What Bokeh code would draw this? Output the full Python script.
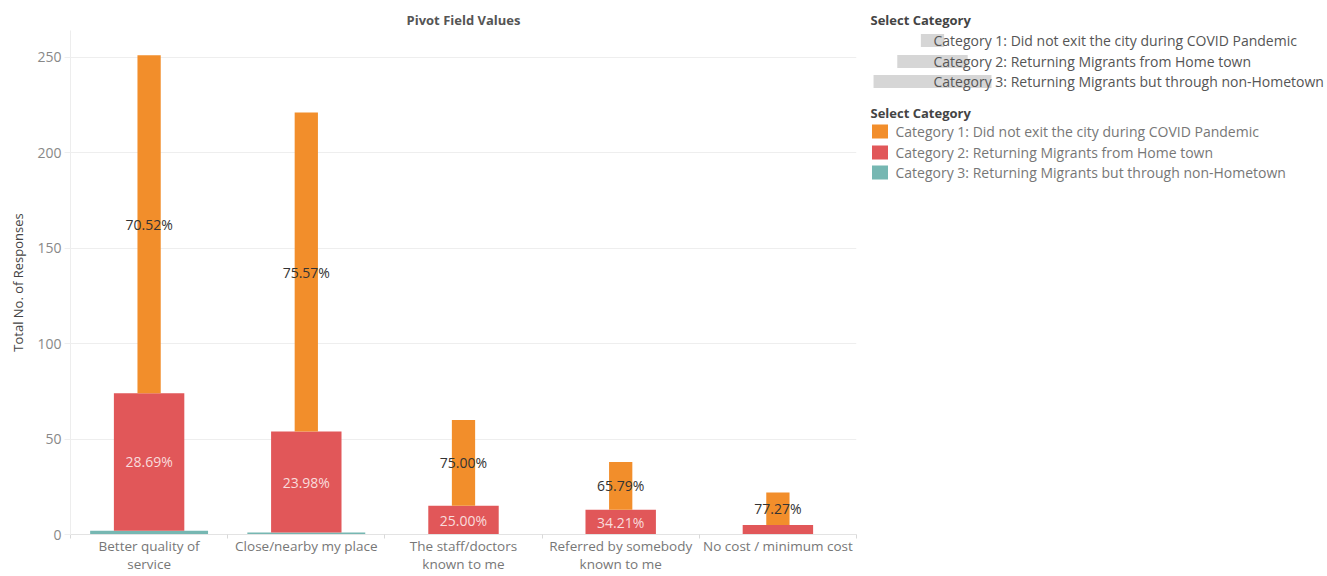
from bokeh.plotting import figure
from bokeh.layouts import row
from bokeh.models import Range1d, FixedTicker, ColumnDataSource
from bokeh.core.properties import value
from bokeh.embed import file_html
from bokeh.resources import INLINE

# ---- data ----
reasons = [
    "Better quality of\nservice",
    "Close/nearby my place",
    "The staff/doctors\nknown to me",
    "Referred by somebody\nknown to me",
    "No cost / minimum cost",
]
cat1 = [177, 167, 45, 25, 17]   # Did not exit the city
cat2 = [72, 53, 15, 13, 5]      # Returning migrants from home town
cat3 = [2, 1, 0, 0, 0]          # Returning migrants via non-hometown
series_names = [
    "Category 1: Did not exit the city during COVID Pandemic",
    "Category 2: Returning Migrants from Home town",
    "Category 3: Returning Migrants but through non-Hometown",
]
colors = ["#F28E2B", "#E15759", "#76B7B2"]
y_ticks = [0, 50, 100, 150, 200, 250]
chart_title = "Pivot Field Values"
y_title = "Total No. of Responses"
legend_title = "Select Category"

FONT = "Open Sans"
W, H = 1327, 576
TOP, BOTTOM = 30, 42           # fixed borders of the chart frame
n = len(reasons)
xs = [i + 0.5 for i in range(n)]
totals = [a + b + c for a, b, c in zip(cat1, cat2, cat3)]
bar_w = [0.148, 0.448, 0.75]   # orange, red, teal widths (fraction of band)

p = figure(width=860, height=H, x_range=Range1d(0, n), y_range=Range1d(0, 264),
           toolbar_location=None, output_backend="svg", title=chart_title,
           min_border_left=70, min_border_right=4, min_border_top=TOP, min_border_bottom=BOTTOM)
p.outline_line_color = None
p.background_fill_color = "white"
p.border_fill_color = "white"

teal_top = cat3
red_bottom = cat3
red_top = [a + b for a, b in zip(cat3, cat2)]
orange_bottom = red_top
orange_top = totals

p.vbar(x=xs, bottom=0, top=teal_top, width=bar_w[2], fill_color=colors[2], line_color=None)
p.vbar(x=xs, bottom=red_bottom, top=red_top, width=bar_w[1], fill_color=colors[1], line_color=None)
p.vbar(x=xs, bottom=orange_bottom, top=orange_top, width=bar_w[0], fill_color=colors[0], line_color=None)

# labels
o_src = ColumnDataSource(dict(
    x=xs, y=[(b + t) / 2 for b, t in zip(orange_bottom, orange_top)],
    text=["%.2f%%" % (100 * a / t) for a, t in zip(cat1, totals)]))
p.text(x="x", y="y", text="text", source=o_src, text_align="center", text_baseline="middle",
       text_font=value(FONT), text_font_size="14px", text_color="#333333")
rx, ry, rt = [], [], []
for i in range(n):
    if cat2[i] >= 10:
        rx.append(xs[i]); ry.append((red_bottom[i] + red_top[i]) / 2)
        rt.append("%.2f%%" % (100 * cat2[i] / totals[i]))
r_src = ColumnDataSource(dict(x=rx, y=ry, text=rt))
p.text(x="x", y="y", text="text", source=r_src, text_align="center", text_baseline="middle",
       text_font=value(FONT), text_font_size="14px", text_color="#F9DCDC")

# title
p.title.align = "center"
p.title.text_font = FONT
p.title.text_font_size = "13px"
p.title.text_font_style = "bold"
p.title.text_color = "#555555"
p.title.standoff = 3

# x axis
p.xaxis.ticker = FixedTicker(ticks=xs, minor_ticks=list(range(n + 1)))
overrides = {}
for x, lab in zip(xs, reasons):
    overrides[x] = lab
p.xaxis.major_label_overrides = overrides
p.xaxis.major_tick_out = 0
p.xaxis.major_tick_in = 0
p.xaxis.minor_tick_out = 4
p.xaxis.minor_tick_in = 0
p.xaxis.minor_tick_line_color = "#D9D9D9"
p.xaxis.axis_line_color = "#E3E3E3"
p.xaxis.major_label_text_font = FONT
p.xaxis.major_label_text_font_size = "13.5px"
p.xaxis.major_label_text_line_height = 1.0
p.xaxis.major_label_text_color = "#777777"
p.xaxis.major_label_standoff = -2
p.xgrid.visible = False

# y axis
yt = FixedTicker(ticks=y_ticks, minor_ticks=[])
p.yaxis.ticker = yt
p.ygrid.ticker = yt
p.ygrid.grid_line_color = "#EEEEEE"
p.yaxis.axis_line_color = "#EDEDED"
p.yaxis.major_tick_out = 6
p.yaxis.major_tick_in = 0
p.yaxis.major_tick_line_color = "#EEEEEE"
p.yaxis.minor_tick_out = 0
p.yaxis.major_label_standoff = 3
p.yaxis.major_label_text_font = FONT
p.yaxis.major_label_text_font_size = "14px"
p.yaxis.major_label_text_color = "#888888"
p.yaxis.axis_label = y_title
p.yaxis.axis_label_text_font = FONT
p.yaxis.axis_label_text_font_size = "13px"
p.yaxis.axis_label_text_font_style = "normal"
p.yaxis.axis_label_text_color = "#444444"
p.yaxis.axis_label_standoff = 7

# ---- legend panel (coordinates are page pixels; frame aligned with chart frame) ----
band_px = 786 / n
q = figure(width=W - 860, height=H, x_range=Range1d(860, W), y_range=Range1d(H - BOTTOM, TOP),
           toolbar_location=None, output_backend="svg", min_border=0, title=legend_title,
           x_axis_location=None, y_axis_location=None)
q.outline_line_color = None
q.grid.visible = False
q.title.align = "left"
q.title.offset = 10
q.title.text_font = FONT
q.title.text_font_size = "13px"
q.title.text_font_style = "bold"
q.title.text_color = "#444444"
q.title.standoff = 3

size_y = [40, 61, 81]
q.rect(x=[932] * 3, y=size_y, width=[w * band_px for w in bar_w],
       height=13, fill_color="#D6D6D6", line_color=None)
q.text(x=[933] * 3, y=size_y, text=series_names, text_baseline="middle",
       text_font=value(FONT), text_font_size="14px", text_color="#555555")
q.text(x=[870], y=[112], text=[legend_title], text_baseline="middle",
       text_font=value(FONT), text_font_size="13px", text_font_style="bold", text_color="#444444")
col_y = [131, 152, 172]
q.rect(x=[879.5] * 3, y=col_y, width=16, height=14, fill_color=colors, line_color=None)
q.text(x=[895] * 3, y=col_y, text=series_names, text_baseline="middle",
       text_font=value(FONT), text_font_size="14px", text_color="#777777")

layout = row(p, q)
open("out.html", "w").write(file_html(layout, INLINE))
